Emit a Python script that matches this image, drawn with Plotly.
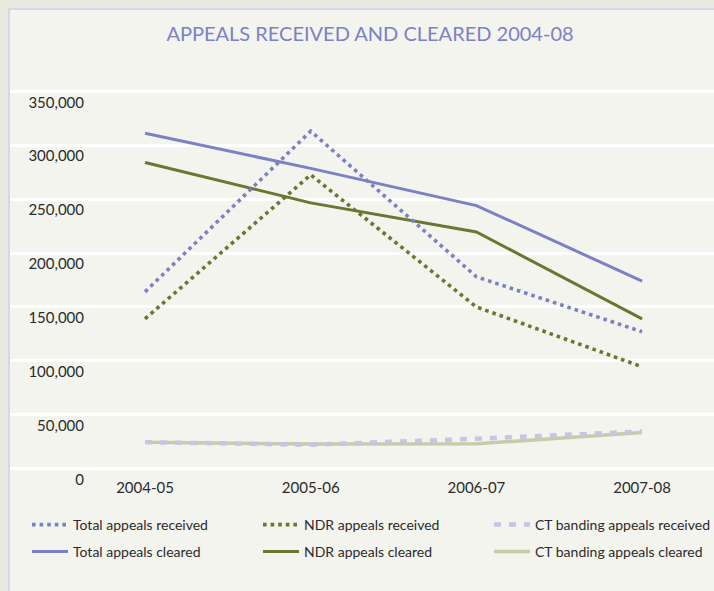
import plotly.graph_objects as go

# values
years = ["2004-05", "2005-06", "2006-07", "2007-08"]
total_received = [164000, 313000, 178000, 127000]
ndr_received = [139000, 272500, 150000, 94500]
ct_received = [24600, 22200, 27800, 34500]
total_cleared = [311000, 278500, 244000, 174000]
ndr_cleared = [284000, 246500, 219500, 139000]
ct_cleared = [24600, 22800, 23100, 33600]
y_ticks = [0, 50000, 100000, 150000, 200000, 250000, 300000, 350000]

W, H = 714, 591
L, R, T, B = 10, 0, 60, 116
PANEL = "#f3f4ee"
OUTER = "#e9eadf"
BLUE = "#7b81c4"
OLIVE = "#6a7730"
LAV = "#c4c6e4"
SAGE = "#c7cba6"
TEXT = "#2b2b2b"
FONT = "Lato"

# y mapping: 0 sits 6px above the plot bottom, 350,000 31px below the top
px_per_unit = 378 / 350000
y_min = -6.3 / px_per_unit
y_max = 350000 + 31.3 / px_per_unit

fig = go.Figure()

series = [
    ("Total appeals cleared", total_cleared, BLUE, 3, "solid", "legend2"),
    ("NDR appeals cleared", ndr_cleared, OLIVE, 3, "solid", "legend2"),
    ("CT banding appeals cleared", ct_cleared, SAGE, 3.5, "solid", "legend2"),
    ("Total appeals received", total_received, BLUE, 3.6, "3.6px,4px", "legend"),
    ("NDR appeals received", ndr_received, OLIVE, 3.6, "3.6px,4px", "legend"),
    ("CT banding appeals received", ct_received, LAV, 4.5, "7px,8px", "legend"),
]
for name, vals, color, width, dash, leg in series:
    fig.add_trace(go.Scatter(
        x=years, y=vals, name=name, mode="lines",
        line=dict(color=color, width=width, dash=dash),
        legend=leg,
    ))

plot_w = W - L - R
plot_h = H - T - B


def px_x(p):
    return (p - L) / plot_w


def px_y(p):
    return (H - B - p) / plot_h


legend_common = dict(
    orientation="h", xanchor="left", yanchor="middle",
    x=px_x(27), bgcolor="rgba(0,0,0,0)",
    font=dict(family=FONT, size=14, color=TEXT),
    entrywidth=180, itemwidth=36,
)

fig.update_layout(
    width=W, height=H,
    margin=dict(l=L, r=R, t=T, b=B, autoexpand=False),
    paper_bgcolor=OUTER,
    plot_bgcolor=PANEL,
    font=dict(family=FONT, color=TEXT),
    title=dict(
        text="APPEALS RECEIVED AND CLEARED 2004-08",
        font=dict(family=FONT, size=20, color=BLUE),
        x=px_x(370), xref="paper", xanchor="center",
        y=1 - 34 / H, yanchor="middle",
    ),
    xaxis=dict(
        type="category", range=[-0.815, 3.434],
        showgrid=False, zeroline=False, showline=False,
        ticks="", ticklabelstandoff=2,
        tickfont=dict(family=FONT, size=15, color=TEXT),
    ),
    yaxis=dict(
        range=[y_min, y_max], tickvals=y_ticks,
        tickformat=",d",
        anchor="free", position=px_x(84), side="left",
        showgrid=True, gridcolor="white", gridwidth=2.7,
        zeroline=False, showline=False, ticks="",
        ticklabelshift=11,
        tickfont=dict(family=FONT, size=15, color=TEXT),
    ),
    legend=dict(y=px_y(525), **legend_common),
    legend2=dict(y=px_y(552), **legend_common),
    shapes=[
        dict(type="rect", xref="paper", yref="paper", layer="below",
             x0=px_x(9), x1=px_x(W + 20), y0=px_y(9), y1=px_y(H + 20),
             fillcolor=PANEL, line=dict(color="#d6d7ea", width=2)),
    ],
)

fig.write_html("out.html", config={"displayModeBar": False},
               post_script="document.body.style.margin='0';")
